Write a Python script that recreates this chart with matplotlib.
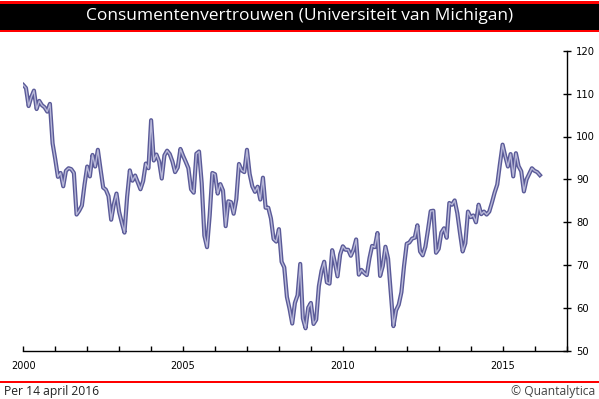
import numpy as np
import matplotlib.pyplot as plt
from matplotlib.patches import Rectangle
from matplotlib.ticker import MultipleLocator

# University of Michigan consumer sentiment, monthly, Jan 2000 - Mar 2016
sentiment = [
    112.0, 111.3, 107.1, 109.2, 110.7, 106.4, 108.3, 107.3, 106.8, 105.8, 107.6, 98.4,   # 2000
    94.7, 90.6, 91.5, 88.4, 92.0, 92.6, 92.4, 91.5, 81.8, 82.7, 83.9, 88.8,              # 2001
    93.0, 90.7, 95.7, 93.0, 96.9, 92.4, 88.1, 87.6, 86.1, 80.6, 84.2, 86.7,              # 2002
    82.4, 79.9, 77.6, 86.0, 92.1, 89.7, 90.9, 89.3, 87.7, 89.6, 93.7, 92.6,              # 2003
    103.8, 94.4, 95.8, 94.2, 90.2, 95.6, 96.7, 95.9, 94.2, 91.7, 92.8, 97.1,             # 2004
    95.5, 94.1, 92.6, 87.7, 86.9, 96.0, 96.5, 89.1, 76.9, 74.2, 81.6, 91.5,              # 2005
    91.2, 86.7, 88.9, 87.4, 79.1, 84.9, 84.7, 82.0, 85.4, 93.6, 92.1, 91.7,              # 2006
    96.9, 91.3, 88.4, 87.1, 88.3, 85.3, 90.4, 83.4, 83.4, 80.9, 76.1, 75.5,              # 2007
    78.4, 70.8, 69.5, 62.6, 59.8, 56.4, 61.2, 63.0, 70.3, 57.6, 55.3, 60.1,              # 2008
    61.2, 56.3, 57.3, 65.1, 68.7, 70.8, 66.0, 65.7, 73.5, 70.6, 67.4, 72.5,              # 2009
    74.4, 73.6, 73.6, 72.2, 73.6, 76.0, 67.8, 68.9, 68.2, 67.7, 71.6, 74.5,              # 2010
    74.2, 77.5, 67.5, 69.8, 74.3, 71.5, 63.7, 55.8, 59.5, 60.8, 63.7, 69.9,              # 2011
    75.0, 75.3, 76.2, 76.4, 79.3, 73.2, 72.3, 74.3, 78.3, 82.6, 82.7, 72.9,              # 2012
    73.8, 77.6, 78.6, 76.4, 84.5, 84.1, 85.1, 82.1, 77.5, 73.2, 75.1, 82.5,              # 2013
    81.2, 81.6, 80.0, 84.1, 81.9, 82.5, 81.8, 82.5, 84.6, 86.9, 88.8, 93.6,              # 2014
    98.1, 95.4, 93.0, 95.9, 90.7, 96.1, 93.1, 91.9, 87.2, 90.0, 91.3, 92.6,              # 2015
    92.0, 91.7, 91.0,                                                                    # 2016
]
start_year = 2000
dates = start_year + np.arange(len(sentiment)) / 12.0

title = 'Consumentenvertrouwen (Universiteit van Michigan)'
footer_left = 'Per 14 april 2016'
footer_right = '\u00a9 Quantalytica'

W, H = 599, 399
fig = plt.figure(figsize=(W / 100, H / 100), dpi=100)

# title bar: black band with red lines above and below
fig.add_artist(Rectangle((0, 1 - 32 / H), 1, 31 / H, transform=fig.transFigure,
                         facecolor='#ff0000', edgecolor='none'))
fig.add_artist(Rectangle((0, 1 - 29.5 / H), 1, 26 / H, transform=fig.transFigure,
                         facecolor='black', edgecolor='none'))
fig.text(0.5, 1 - 16.5 / H, title, color='white', ha='center', va='center',
         fontsize=12.5, family='Open Sans')

# footer
fig.add_artist(Rectangle((0, 1 - 382.5 / H), 1, 2 / H, transform=fig.transFigure,
                         facecolor='#ff0000', edgecolor='none'))
fig.text(4 / W, 1 - 392 / H, footer_left, ha='left', va='center', fontsize=8.7,
         family='Open Sans', color='#222222')
fig.text(1 - 4 / W, 1 - 392 / H, footer_right, ha='right', va='center', fontsize=8.7,
         family='Open Sans', color='#444444')

# plot area
left, right = 23.3, 566.5
top, bottom = 50.7, 351
ax = fig.add_axes([left / W, 1 - bottom / H, (right - left) / W, (bottom - top) / H])

ax.plot(dates, sentiment, color='#5a5a98', lw=3.0, solid_joinstyle='round')
ax.plot(dates, sentiment, color='#b8b8d8', lw=1.0, solid_joinstyle='round')

ax.set_xlim(2000, 2017)
ax.set_ylim(50, 120)

for s in ['top', 'left']:
    ax.spines[s].set_visible(False)
for s in ['bottom', 'right']:
    ax.spines[s].set_linewidth(1.0)

ax.xaxis.set_major_locator(MultipleLocator(5))
ax.xaxis.set_minor_locator(MultipleLocator(1))
ax.yaxis.set_major_locator(MultipleLocator(10))
ax.yaxis.tick_right()
ax.tick_params(axis='x', which='both', direction='in', length=3.5, width=1, pad=7,
               labelsize=7)
ax.tick_params(axis='y', direction='inout', length=6, width=1, pad=4, labelsize=7.2)
ax.set_xticklabels([str(int(t)) for t in ax.get_xticks()])

plt.savefig('out.png', dpi=100)
